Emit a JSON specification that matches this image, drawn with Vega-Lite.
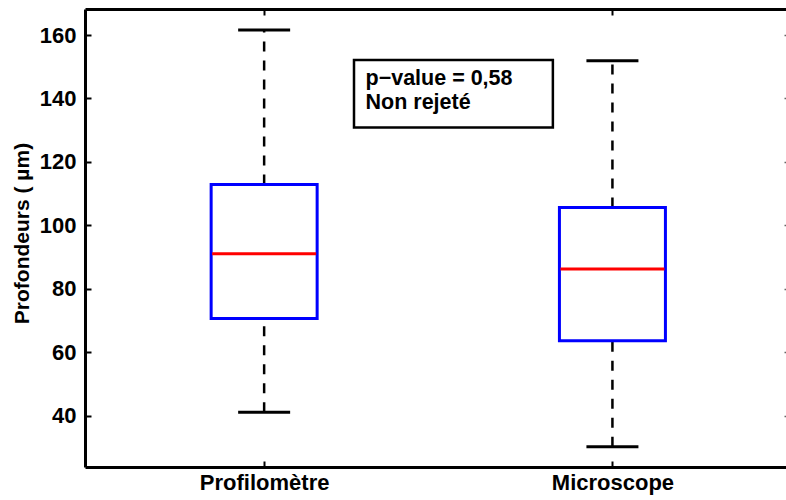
{
  "$schema": "https://vega.github.io/schema/vega-lite/v6.json",
  "width": 701,
  "height": 458,
  "autosize": {"type": "none"},
  "padding": {"left": 85, "top": 9, "right": 0, "bottom": 33},
  "background": "white",
  "config": {
    "view": {"stroke": null},
    "axis": {
      "grid": false,
      "domainColor": "black",
      "domainWidth": 3,
      "tickColor": "black",
      "tickWidth": 2,
      "labelFont": "Liberation Sans",
      "labelFontWeight": "bold",
      "labelFontSize": 22,
      "labelColor": "black",
      "titleFont": "Liberation Sans",
      "titleFontWeight": "bold",
      "titleFontSize": 21,
      "titleColor": "black"
    }
  },
  "datasets": {
    "boxes": [
      {"pos": 1, "label": "Profilomètre", "lo": 41.1, "q1": 70.6, "med": 91.0, "q3": 112.9, "hi": 161.6},
      {"pos": 2, "label": "Microscope", "lo": 30.2, "q1": 63.6, "med": 86.2, "q3": 105.6, "hi": 151.9}
    ],
    "note": [{"x1": 1.258, "x2": 1.829, "y1": 130.8, "y2": 152.1}],
    "notetext": [
      {"x": 1.291, "y": 146.1, "t": "p−value = 0,58"},
      {"x": 1.291, "y": 138.6, "t": "Non rejeté"}
    ]
  },
  "layer": [
    {
      "data": {"name": "boxes"},
      "mark": {"type": "rule", "color": "black", "strokeWidth": 2.5, "strokeDash": [10, 9]},
      "encoding": {
        "x": {"field": "pos", "type": "quantitative", "scale": {"domain": [0.5, 2.484], "nice": false, "zero": false},
          "axis": {"orient": "bottom", "values": [1, 2], "labelExpr": "datum.value == 1 ? 'Profilomètre' : 'Microscope'", "tickSize": -6, "labelPadding": 11, "title": null, "labelFlush": false, "labelOverlap": false}},
        "y": {"field": "q3", "type": "quantitative", "scale": {"domain": [23.8, 168.2], "nice": false, "zero": false},
          "axis": {"orient": "left", "values": [40, 60, 80, 100, 120, 140, 160], "tickSize": -6, "labelPadding": 15, "title": "Profondeurs ( µm)", "titleAngle": 270, "titleBaseline": "alphabetic", "titleX": -57, "titleY": 224, "labelFlush": false, "labelOverlap": false}},
        "y2": {"field": "hi"}
      }
    },
    {
      "data": {"name": "boxes"},
      "mark": {"type": "rule", "color": "black", "strokeWidth": 2.5, "strokeDash": [10, 9]},
      "encoding": {
        "x": {"field": "pos", "type": "quantitative", "scale": {"domain": [0.5, 2.484], "nice": false, "zero": false}, "axis": null},
        "y": {"field": "lo", "type": "quantitative", "scale": {"domain": [23.8, 168.2], "nice": false, "zero": false}, "axis": null},
        "y2": {"field": "q1"}
      }
    },
    {
      "data": {"name": "boxes"},
      "mark": {"type": "tick", "orient": "horizontal", "color": "black", "size": 52, "thickness": 3, "opacity": 1},
      "encoding": {
        "x": {"field": "pos", "type": "quantitative", "scale": {"domain": [0.5, 2.484], "nice": false, "zero": false}, "axis": null},
        "y": {"field": "hi", "type": "quantitative", "scale": {"domain": [23.8, 168.2], "nice": false, "zero": false}, "axis": null}
      }
    },
    {
      "data": {"name": "boxes"},
      "mark": {"type": "tick", "orient": "horizontal", "color": "black", "size": 52, "thickness": 3, "opacity": 1},
      "encoding": {
        "x": {"field": "pos", "type": "quantitative", "scale": {"domain": [0.5, 2.484], "nice": false, "zero": false}, "axis": null},
        "y": {"field": "lo", "type": "quantitative", "scale": {"domain": [23.8, 168.2], "nice": false, "zero": false}, "axis": null}
      }
    },
    {
      "data": {"name": "boxes"},
      "mark": {"type": "bar", "width": 106, "fill": "white", "stroke": "#0000ff", "strokeWidth": 3},
      "encoding": {
        "x": {"field": "pos", "type": "quantitative", "scale": {"domain": [0.5, 2.484], "nice": false, "zero": false}, "axis": null},
        "y": {"field": "q1", "type": "quantitative", "scale": {"domain": [23.8, 168.2], "nice": false, "zero": false}, "axis": null},
        "y2": {"field": "q3"}
      }
    },
    {
      "data": {"name": "boxes"},
      "mark": {"type": "tick", "orient": "horizontal", "color": "#ff0000", "size": 104, "thickness": 3, "opacity": 1},
      "encoding": {
        "x": {"field": "pos", "type": "quantitative", "scale": {"domain": [0.5, 2.484], "nice": false, "zero": false}, "axis": null},
        "y": {"field": "med", "type": "quantitative", "scale": {"domain": [23.8, 168.2], "nice": false, "zero": false}, "axis": null}
      }
    },
    {
      "data": {"name": "note"},
      "mark": {"type": "rect", "fill": "white", "stroke": "black", "strokeWidth": 2.5},
      "encoding": {
        "x": {"field": "x1", "type": "quantitative", "scale": {"domain": [0.5, 2.484], "nice": false, "zero": false},
          "axis": {"orient": "top", "values": [1, 2], "labels": false, "tickSize": -6, "title": null}},
        "x2": {"field": "x2"},
        "y": {"field": "y1", "type": "quantitative", "scale": {"domain": [23.8, 168.2], "nice": false, "zero": false},
          "axis": {"orient": "right", "values": [40, 60, 80, 100, 120, 140, 160], "labels": false, "domain": false, "tickSize": -2, "tickWidth": 1.5, "tickColor": "#666666", "title": null}},
        "y2": {"field": "y2"}
      }
    },
    {
      "data": {"name": "notetext"},
      "mark": {"type": "text", "align": "left", "baseline": "middle", "font": "Liberation Sans", "fontWeight": "bold", "fontSize": 21.5, "color": "black"},
      "encoding": {
        "x": {"field": "x", "type": "quantitative", "scale": {"domain": [0.5, 2.484], "nice": false, "zero": false}, "axis": null},
        "y": {"field": "y", "type": "quantitative", "scale": {"domain": [23.8, 168.2], "nice": false, "zero": false}, "axis": null},
        "text": {"field": "t"}
      }
    }
  ]
}
